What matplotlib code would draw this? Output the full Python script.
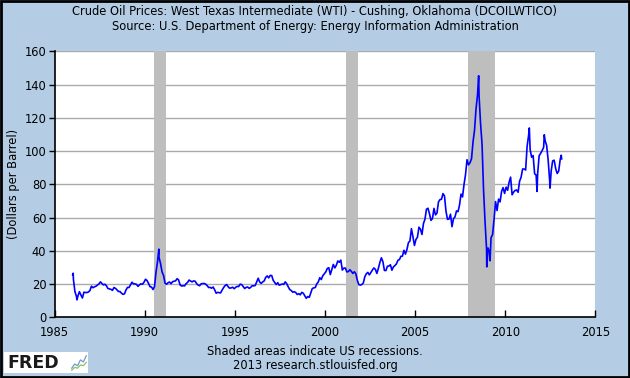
import matplotlib
matplotlib.use("Agg")
import matplotlib.pyplot as plt
from matplotlib.patches import Rectangle

# monthly average WTI price, $/barrel, Jan 1986 .. Feb 2013
monthly_price = [
    22.9, 15.5, 12.6, 12.8, 15.4, 13.4, 11.6, 15.1, 14.9, 14.9, 15.2, 16.1,  # 1986
    18.7, 17.8, 18.3, 18.7, 19.4, 20.1, 21.3, 20.3, 19.5, 19.9, 18.9, 17.3,  # 1987
    17.1, 16.8, 16.2, 17.9, 17.4, 16.5, 15.5, 15.5, 14.5, 13.8, 14.1, 16.4,  # 1988
    18.0, 17.9, 19.5, 21.1, 20.1, 20.1, 19.8, 18.6, 19.6, 20.1, 19.9, 21.1,  # 1989
    22.9, 22.1, 20.4, 18.4, 18.2, 16.7, 18.5, 27.3, 33.5, 36.0, 32.3, 27.3,  # 1990
    25.2, 20.5, 19.9, 20.8, 21.2, 20.2, 21.4, 21.7, 21.9, 23.2, 22.5, 19.5,  # 1991
    18.8, 19.0, 18.9, 20.2, 21.0, 22.4, 21.8, 21.3, 21.9, 21.7, 20.3, 19.4,  # 1992
    19.0, 20.1, 20.3, 20.3, 20.0, 19.1, 17.9, 18.0, 17.5, 18.2, 16.6, 14.5,  # 1993
    15.0, 14.8, 14.7, 16.4, 17.9, 19.1, 19.7, 18.4, 17.5, 17.7, 18.1, 17.2,  # 1994
    18.0, 18.6, 18.5, 19.9, 19.7, 18.5, 17.3, 18.0, 18.2, 17.4, 18.0, 19.0,  # 1995
    18.9, 19.1, 21.3, 23.5, 21.2, 20.4, 21.3, 21.9, 24.0, 24.9, 23.7, 25.2,  # 1996
    25.1, 22.2, 21.0, 19.7, 20.8, 19.3, 19.7, 20.0, 19.8, 21.3, 20.2, 18.3,  # 1997
    16.7, 16.1, 15.1, 15.4, 14.9, 13.7, 14.2, 13.5, 15.0, 14.5, 13.0, 11.4,  # 1998
    12.5, 12.0, 14.7, 17.3, 17.7, 17.9, 20.1, 21.3, 23.8, 22.7, 25.0, 26.1,  # 1999
    27.3, 29.4, 29.8, 25.7, 28.8, 31.8, 29.7, 31.3, 33.9, 33.1, 34.4, 28.4,  # 2000
    29.6, 29.6, 27.3, 27.5, 28.6, 27.6, 26.4, 27.4, 26.2, 22.2, 19.6, 19.4,  # 2001
    19.7, 20.7, 24.5, 26.2, 27.0, 25.5, 27.0, 28.4, 29.7, 28.8, 26.4, 29.5,  # 2002
    33.0, 35.8, 33.5, 28.2, 28.1, 30.7, 30.8, 31.6, 28.3, 30.3, 31.1, 32.1,  # 2003
    34.3, 34.7, 36.7, 36.8, 40.3, 38.0, 40.8, 44.9, 45.9, 53.3, 48.5, 43.2,  # 2004
    46.8, 48.2, 54.2, 53.0, 49.8, 56.4, 59.0, 65.0, 65.6, 62.3, 58.3, 59.4,  # 2005
    65.5, 61.6, 62.7, 69.4, 70.8, 71.0, 74.4, 73.0, 63.8, 58.9, 59.1, 62.0,  # 2006
    54.5, 59.3, 60.4, 64.0, 63.5, 67.5, 74.1, 72.4, 79.9, 85.8, 94.8, 91.7,  # 2007
    93.0, 95.4, 105.5, 112.6, 125.4, 133.9, 133.4, 116.7, 104.1, 76.6, 57.3, 41.1,  # 2008
    41.7, 39.1, 47.9, 49.7, 59.0, 69.6, 64.2, 71.1, 69.4, 75.7, 78.0, 74.5,  # 2009
    78.3, 76.4, 81.2, 84.3, 73.7, 75.3, 76.3, 76.6, 75.2, 81.9, 84.3, 89.2,  # 2010
    89.2, 88.6, 102.9, 109.5, 100.9, 96.3, 97.3, 86.3, 85.5, 86.3, 97.2, 98.6,  # 2011
    100.3, 102.2, 106.2, 103.3, 94.7, 82.3, 87.9, 94.1, 94.5, 89.5, 86.5, 87.9,  # 2012
    94.8, 95.3,  # 2013
]
start_year = 1986

# daily extremes (decimal year, price)
spike_dates = [1986.0, 1986.03, 1986.24, 1990.78, 2008.52, 2008.97, 2009.15,
               2011.33, 2011.76, 2012.16, 2012.48, 2013.1]
spike_values = [25.6, 26.5, 10.5, 41.0, 145.3, 30.3, 34.0,
                113.9, 75.7, 109.8, 77.7, 97.5]

# NBER recessions (decimal year start, end)
recession_start = [1990.5, 2001.17, 2007.92]
recession_end = [1991.17, 2001.83, 2009.42]

# little icon in the logo
icon_a = [1, 2, 1.6, 3, 2.5, 4]
icon_b = [0.5, 1.2, 1.0, 1.8, 1.6, 2.4]

monthly_dates = [start_year + (i + 0.5) / 12 for i in range(len(monthly_price))]
points = sorted(zip(monthly_dates + spike_dates, monthly_price + spike_values))
dates = [p[0] for p in points]
prices = [p[1] for p in points]

bg = "#B4CDE4"
fs = 8.3
plt.rcParams["font.family"] = ["DejaVu Sans"]

fig = plt.figure(figsize=(6.3, 3.78), dpi=100)
fig.patch.set_facecolor(bg)
fig.add_artist(Rectangle((0.0015, 0.0025), 0.997, 0.995, transform=fig.transFigure,
                         fill=False, edgecolor="black", linewidth=2))

ax = fig.add_axes([0.0867, 0.1606, 0.8585, 0.7037])
ax.set_facecolor("white")
for s, e in zip(recession_start, recession_end):
    ax.axvspan(s, e, color="#BEBEBE", linewidth=0, zorder=1)
ax.plot(dates, prices, color="#0000FF", linewidth=1.2, zorder=3)

ax.set_xlim(1985, 2015)
ax.set_ylim(0, 160)
ax.set_xticks(range(1985, 2016, 5))
ax.set_yticks(range(0, 161, 20))
ax.yaxis.grid(True, color="#AAAAAA", linewidth=1)
ax.set_axisbelow(True)
ax.tick_params(axis="x", direction="in", length=5, labelsize=fs, pad=6, width=1)
ax.tick_params(axis="y", direction="out", length=4, labelsize=fs, pad=2, width=1)
for side in ["top", "right"]:
    ax.spines[side].set_visible(False)
for side in ["left", "bottom"]:
    ax.spines[side].set_linewidth(1.2)
ax.set_ylabel("(Dollars per Barrel)", fontsize=fs)
ax.yaxis.set_label_coords(-0.064, 0.5)

fig.text(0.5, 0.970, "Crude Oil Prices: West Texas Intermediate (WTI) - Cushing, Oklahoma (DCOILWTICO)",
         ha="center", va="center", fontsize=fs)
fig.text(0.5, 0.931, "Source: U.S. Department of Energy: Energy Information Administration",
         ha="center", va="center", fontsize=fs)
fig.text(0.5, 0.071, "Shaded areas indicate US recessions.", ha="center", va="center", fontsize=fs)
fig.text(0.5, 0.032, "2013 research.stlouisfed.org", ha="center", va="center", fontsize=fs)

# FRED logo
fig.add_artist(Rectangle((4 / 630, 5 / 378), 84 / 630, 21 / 378, transform=fig.transFigure,
                         facecolor="white", edgecolor="none"))
fig.text(7 / 630, 15.5 / 378, "FRED", ha="left", va="center", fontsize=12.5,
         fontweight="bold", color="#1A1A1A")
icon = fig.add_axes([71 / 630, 7 / 378, 16 / 630, 16 / 378], zorder=5)
icon.patch.set_alpha(0)
icon.plot(icon_a, color="#6F9BD1", linewidth=0.9)
icon.plot(icon_b, color="#8CBF6A", linewidth=0.9)
icon.set_xticks([])
icon.set_yticks([])
for s in icon.spines.values():
    s.set_visible(False)

fig.savefig("out.png", dpi=100, facecolor=bg)
